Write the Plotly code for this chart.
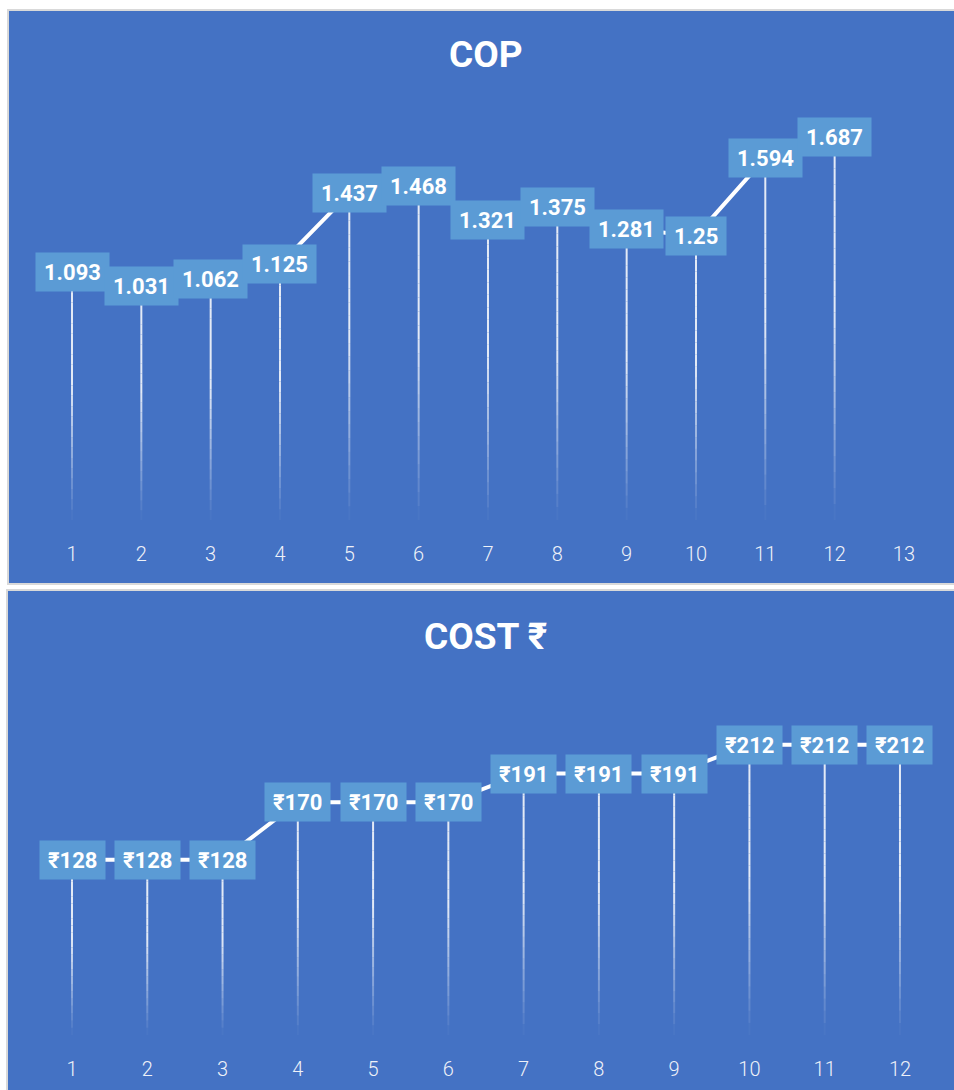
import plotly.graph_objects as go

# ---- data ----
cop_x = [1, 2, 3, 4, 5, 6, 7, 8, 9, 10, 11, 12]
cop_values = [1.093, 1.031, 1.062, 1.125, 1.437, 1.468, 1.321, 1.375, 1.281, 1.25, 1.594, 1.687]
cop_ticks = list(range(1, 14))

cost_x = [1, 2, 3, 4, 5, 6, 7, 8, 9, 10, 11, 12]
cost_values = [128, 128, 128, 170, 170, 170, 191, 191, 191, 212, 212, 212]
cost_ticks = list(range(1, 13))

# ---- style ----
W, H = 954, 1090
PANEL = "#4472C4"
LABEL_BG = "#5B9BD5"
BORDER = "#D9D9D9"
FONT = "Roboto, 'Noto Sans', 'DejaVu Sans', sans-serif"


def px(x):
    return x / W


def py(y):
    return 1 - y / H


fig = go.Figure()

# panel backgrounds
fig.add_shape(type="rect", xref="paper", yref="paper",
              x0=px(8), x1=px(960), y0=py(584), y1=py(10),
              fillcolor=PANEL, line=dict(color=BORDER, width=2), layer="below")
fig.add_shape(type="rect", xref="paper", yref="paper",
              x0=px(7), x1=px(960), y0=py(1100), y1=py(590),
              fillcolor=PANEL, line=dict(color=BORDER, width=2), layer="below")


def drop_lines(xs, ys, xa, ya, n=24):
    """Vertical lines from each point to zero, fading toward the bottom."""
    for k in range(n):
        t0, t1 = k / n, (k + 1) / n
        tm = (t0 + t1) / 2
        alpha = 1.0 if tm < 0.45 else max(0.0, 1 - (tm - 0.45) / 0.55)
        sx, sy = [], []
        for x, v in zip(xs, ys):
            sx += [x, x, None]
            sy += [v * (1 - t0), v * (1 - t1), None]
        fig.add_trace(go.Scatter(x=sx, y=sy, mode="lines", xaxis=xa, yaxis=ya,
                                 line=dict(color="rgba(255,255,255,%.3f)" % (0.85 * alpha), width=2),
                                 hoverinfo="skip", showlegend=False))


def series(xs, ys, labels, xa, ya):
    drop_lines(xs, ys, xa, ya)
    fig.add_trace(go.Scatter(x=xs, y=ys, mode="lines", xaxis=xa, yaxis=ya,
                             line=dict(color="white", width=4),
                             hoverinfo="skip", showlegend=False))
    for x, v, lab in zip(xs, ys, labels):
        fig.add_annotation(x=x, y=v, xref=xa, yref=ya, text=lab, showarrow=False,
                           bgcolor=LABEL_BG, borderpad=8, height=22,
                           font=dict(family=FONT, size=22, color="white", weight="bold"))


series(cop_x, cop_values, [f"{v:g}" for v in cop_values], "x", "y")
series(cost_x, cost_values, [f"₹{v}" for v in cost_values], "x2", "y2")

# top chart geometry: zero at y=520px, 227.3 px per unit, categories every 69.33px from x=72
cop_zero, cop_scale, cop_top = 520, 227.3, 100
cost_zero, cost_scale, cost_top = 1035, 1.369, 690

tick_font = dict(family=FONT, size=20, color="#EEF1F8", weight=300)
axis_common = dict(showgrid=False, zeroline=False, showline=False, ticks="",
                   tickfont=tick_font, fixedrange=True)

fig.update_layout(
    width=W, height=H,
    margin=dict(l=0, r=0, t=0, b=0),
    paper_bgcolor="white",
    plot_bgcolor="rgba(0,0,0,0)",
    showlegend=False,
    xaxis=dict(domain=[px(72 - 69.33 / 2), px(72 + 12.5 * 69.33)], range=[0.5, 13.5],
               tickmode="array", tickvals=cop_ticks, ticktext=[str(t) for t in cop_ticks],
               anchor="y", ticklabelstandoff=20, **axis_common),
    yaxis=dict(domain=[py(cop_zero), py(cop_top)],
               range=[0, (cop_zero - cop_top) / cop_scale],
               visible=False, anchor="x", fixedrange=True),
    xaxis2=dict(domain=[px(72 - 75.27 / 2), px(72 + 11.5 * 75.27)], range=[0.5, 12.5],
                tickmode="array", tickvals=cost_ticks, ticktext=[str(t) for t in cost_ticks],
                anchor="y2", ticklabelstandoff=20, **axis_common),
    yaxis2=dict(domain=[py(cost_zero), py(cost_top)],
                range=[0, (cost_zero - cost_top) / cost_scale],
                visible=False, anchor="x2", fixedrange=True),
)

# chart titles
fig.add_annotation(x=px(486), y=py(54), xref="paper", yref="paper", text="COP",
                   xanchor="center", yanchor="middle", showarrow=False,
                   font=dict(family=FONT, size=37, color="white", weight="bold"))
fig.add_annotation(x=px(485), y=py(636), xref="paper", yref="paper", text="COST ₹",
                   xanchor="center", yanchor="middle", showarrow=False,
                   font=dict(family=FONT, size=37, color="white", weight="bold"))

fig.write_html("out.html")
